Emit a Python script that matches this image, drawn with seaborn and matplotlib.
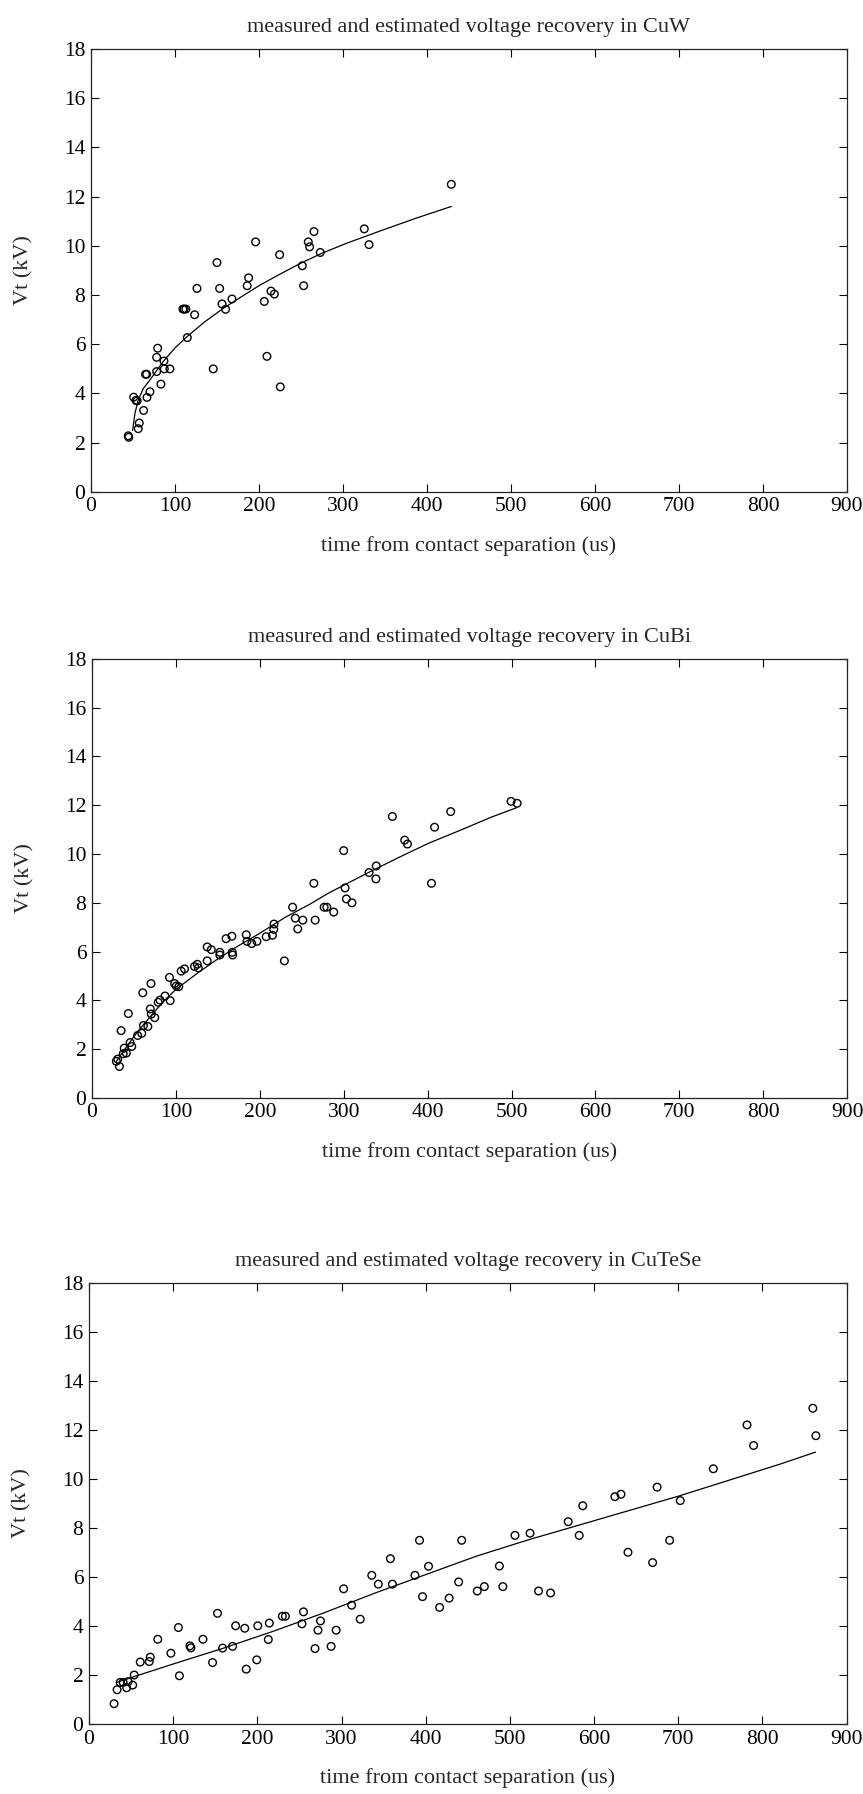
import matplotlib
matplotlib.use("Agg")
import seaborn as sns
import matplotlib.pyplot as plt
import pandas as pd
import numpy as np

# measured points (time in us, voltage in kV)
cuw_t = [44.4, 45, 50.8, 53.6, 55, 56.3, 57.5, 62.7, 65, 66.3, 66.7, 70.2, 78.2, 78.2, 79.4,
         83.3, 86.9, 87.3, 94, 109.5, 111, 113, 114.7, 123.4, 126.2, 145.6, 150, 153.2, 156,
         160.3, 167.9, 186, 187.7, 196, 206.3, 209.5, 214.3, 218.3, 224.6, 225.4, 251.6,
         253.2, 258.7, 260.3, 265.5, 273, 325.4, 331, 429]
cuw_v = [2.28, 2.22, 3.85, 3.72, 3.70, 2.57, 2.80, 3.31, 4.78, 4.78, 3.84, 4.07, 4.89, 5.47, 5.84,
         4.38, 5.32, 5.0, 5.0, 7.43, 7.43, 7.43, 6.27, 7.2, 8.27, 5.0, 9.32, 8.27, 7.64,
         7.42, 7.84, 8.38, 8.70, 10.16, 7.74, 5.51, 8.16, 8.04, 9.64, 4.27, 9.19,
         8.38, 10.16, 9.96, 10.58, 9.73, 10.69, 10.05, 12.5]

cubi_t = [29, 30.6, 32.7, 34.7, 37.2, 38.4, 40.9, 43.3, 45.4, 47.4, 54.4, 59.3, 60.5, 61.3,
          66.6, 69.5, 70.3, 70.7, 74.8, 78.9, 81, 87, 92.4, 93.2, 98.5, 100.5, 103.4, 106.3,
          110.3, 122.2, 125.5, 126.7, 137.3, 137.3, 142.2, 152.4, 152.4, 159.8, 166.7, 167.1,
          167.6, 183.9, 184.7, 190.4, 196.6, 207.6, 215, 216.6, 217, 229.3, 239.1, 242.3,
          245.2, 251.3, 264.4, 266, 276.7, 279.9, 288.1, 300, 301.6, 303.2, 309.8, 330.2,
          338.8, 338.4, 358, 372.7, 376, 404.6, 408.3, 427.5, 499.4, 506.7]
cubi_v = [1.50, 1.59, 1.29, 2.76, 1.81, 2.04, 1.84, 3.46, 2.27, 2.11, 2.56, 2.65, 4.31, 2.97,
          2.93, 3.65, 4.69, 3.44, 3.29, 3.92, 4.01, 4.18, 4.94, 3.99, 4.69, 4.59, 4.56, 5.20,
          5.29, 5.39, 5.48, 5.33, 5.62, 6.19, 6.08, 5.97, 5.86, 6.53, 6.63, 5.97,
          5.86, 6.69, 6.42, 6.33, 6.42, 6.61, 6.67, 6.91, 7.13, 5.62, 7.82, 7.37,
          6.93, 7.29, 8.80, 7.29, 7.82, 7.82, 7.62, 10.14, 8.61, 8.16, 8.0, 9.24,
          9.51, 8.98, 11.54, 10.57, 10.41, 8.80, 11.10, 11.74, 12.16, 12.08]

cutese_t = [29.8, 33.4, 37, 40.6, 44.7, 46.5, 51.9, 53.7, 60.9, 71.6, 72.8, 81.7, 97.3, 106.2,
            107.4, 119.9, 121.1, 135.4, 146.8, 152.7, 158.7, 170.6, 174.2, 185, 186.8, 200.5,
            199.3, 213, 214.2, 229.7, 233.3, 253, 254.8, 268.5, 272, 275, 287.6, 293.6, 302.5,
            312, 322.2, 335.9, 343.7, 358, 360.4, 387.2, 392.6, 396.2, 403.3, 416.5, 427.8,
            439.1, 442.7, 461.2, 469.6, 487.5, 491.6, 506, 523.9, 534, 548.3, 569.2, 582.3,
            586.5, 624.7, 631.9, 640.2, 669.5, 674.8, 689.7, 702.3, 741.6, 781.6, 789.4,
            859.8, 863.4]
cutese_v = [0.83, 1.40, 1.70, 1.70, 1.48, 1.73, 1.59, 2.0, 2.53, 2.55, 2.73, 3.46, 2.89, 3.94,
            1.97, 3.19, 3.11, 3.46, 2.51, 4.52, 3.10, 3.17, 4.01, 3.91, 2.24, 4.01,
            2.62, 3.45, 4.12, 4.40, 4.40, 4.09, 4.58, 3.08, 3.83, 4.21, 3.17, 3.83, 5.52,
            4.85, 4.28, 6.07, 5.71, 6.75, 5.71, 6.07, 7.50, 5.20, 6.44, 4.76, 5.14,
            5.80, 7.50, 5.43, 5.61, 6.45, 5.61, 7.70, 7.79, 5.43, 5.35, 8.26, 7.70,
            8.91, 9.28, 9.38, 7.01, 6.59, 9.67, 7.50, 9.12, 10.42, 12.21, 11.37,
            12.89, 11.77]

# estimated (fitted) curves
cuw_fit_t = [49.6, 52.4, 56.3, 62.3, 70.2, 86, 100, 114, 135, 157.5, 180, 201, 225, 249, 275,
             304, 344, 385, 429]
cuw_fit_v = [2.5, 3.2, 3.74, 4.2, 4.55, 5.3, 5.85, 6.3, 6.9, 7.46, 7.95, 8.4, 8.85, 9.28, 9.7,
             10.1, 10.6, 11.1, 11.6]

cubi_fit_t = [29, 40, 55, 70, 85, 100, 125, 150, 175, 200, 230, 260, 282, 300, 330, 365, 401,
              440, 475, 506]
cubi_fit_v = [1.50, 2.05, 2.75, 3.35, 3.95, 4.45, 5.1, 5.7, 6.25, 6.75, 7.4, 7.95, 8.4, 8.72,
              9.25, 9.85, 10.44, 10.99, 11.5, 11.9]

cutese_fit_t = [33, 55, 100, 160, 220, 280, 340, 400, 460, 520, 580, 640, 700, 760, 820, 863]
cutese_fit_v = [1.70, 1.95, 2.45, 3.1, 3.8, 4.55, 5.35, 6.1, 6.85, 7.5, 8.1, 8.7, 9.3,
                9.95, 10.6, 11.1]

materials = ["CuW", "CuBi", "CuTeSe"]
meas = [(cuw_t, cuw_v), (cubi_t, cubi_v), (cutese_t, cutese_v)]
fits = [(cuw_fit_t, cuw_fit_v), (cubi_fit_t, cubi_fit_v), (cutese_fit_t, cutese_fit_v)]

sns.set_style("ticks")
plt.rcParams['font.family'] = ['Liberation Serif', 'DejaVu Serif']
plt.rcParams['xtick.direction'] = 'in'
plt.rcParams['ytick.direction'] = 'in'

fig = plt.figure(figsize=(8.63, 17.94), dpi=100)
# axes boxes in figure fractions: left, bottom, width, height
boxes = [(0.1054, 0.7258, 0.876, 0.2469),
         (0.1066, 0.3880, 0.875, 0.2447),
         (0.1031, 0.0390, 0.878, 0.2458)]

for box, name, (t, v), (ft, fv) in zip(boxes, materials, meas, fits):
    ax = fig.add_axes(box)
    df = pd.DataFrame({"t": t, "v": v})
    dfit = pd.DataFrame({"t": ft, "v": fv})
    sns.scatterplot(data=df, x="t", y="v", ax=ax, marker="o", s=30,
                    facecolors="none", edgecolor="black", linewidth=1.0)
    sns.lineplot(data=dfit, x="t", y="v", ax=ax, color="black", linewidth=0.9,
                 sort=False, estimator=None)
    ax.set_xlim(0, 900)
    ax.set_ylim(0, 18)
    ax.set_xticks(np.arange(0, 901, 100))
    ax.set_yticks(np.arange(0, 19, 2))
    ax.tick_params(top=True, right=True, length=6, width=0.8, labelsize=15.5,
                   colors="black")
    ax.tick_params(axis="x", pad=4)
    ax.tick_params(axis="y", pad=4)
    for sp in ax.spines.values():
        sp.set_linewidth(0.9)
        sp.set_color("#222222")
    ax.set_xlabel("time from contact separation (us)", fontsize=16, labelpad=14)
    ax.set_ylabel("Vt (kV)", fontsize=16, labelpad=22)
    ax.set_title("measured and estimated voltage recovery in " + name, fontsize=16, pad=12)

fig.savefig("out.png", dpi=100)
